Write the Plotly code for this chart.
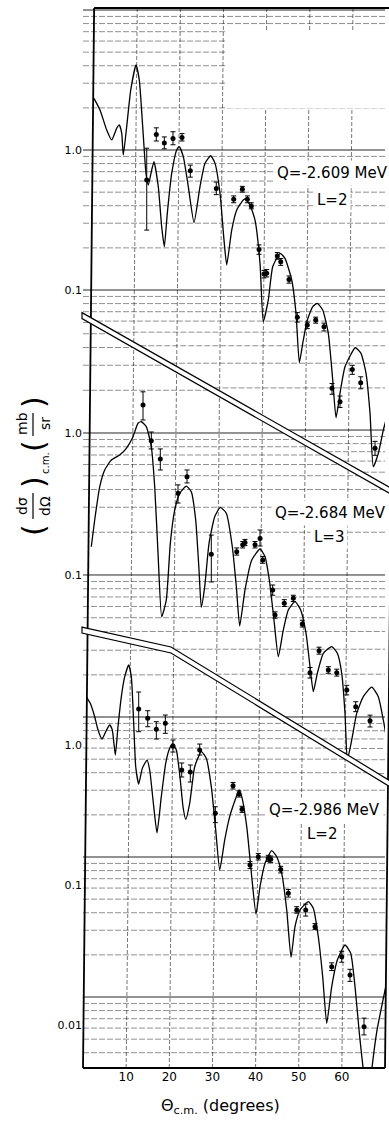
import math
import plotly.graph_objects as go

# ---------------- data (theta c.m. in degrees, dsigma/dOmega in mb/sr) ----------------
# Panel 1 : Q = -2.609 MeV, L = 2
c1_deg = [2.55, 3.94, 5.49, 6.65, 7.81, 8.41, 8.97, 9.34, 10.13, 11.06, 12.29, 13.05, 13.84, 14.60,
          15.14, 15.92, 16.46, 17.45, 18.24, 18.85, 19.54, 20.56, 21.72, 22.32, 23.25, 24.41, 25.73,
          27.12, 28.28, 29.60, 30.60, 31.76, 32.68, 33.31, 34.47, 35.63, 37.16, 37.71, 38.71, 39.87,
          41.03, 41.79, 42.95, 43.97, 45.67, 46.82, 48.38, 49.37, 50.14, 50.93, 51.99, 53.25, 54.31,
          55.56, 56.86, 57.88, 58.65, 59.57, 60.73, 63.12, 64.44, 65.60, 66.53, 67.29, 68.45, 69.61, 70.24]
c1_val = [2.34, 1.93, 1.39, 1.18, 1.43, 1.51, 1.32, 0.92, 1.47, 2.68, 4.05, 3.16, 1.47, 0.68,
          0.562, 0.72, 0.825, 0.547, 0.283, 0.204, 0.353, 0.68, 1.0, 1.056, 0.896, 0.547, 0.303,
          0.547, 0.803, 0.91, 0.803, 0.49, 0.228, 0.151, 0.268, 0.373, 0.44, 0.447, 0.405, 0.316,
          0.155, 0.0594, 0.0849, 0.1467, 0.183, 0.1684, 0.1179, 0.0682, 0.0303, 0.0416, 0.0611, 0.076, 0.0804,
          0.072, 0.0491, 0.0228, 0.01225, 0.0183, 0.0283, 0.0387, 0.0353, 0.0254, 0.01316, 0.00547, 0.00682, 0.010, 0.0118]
p1_deg = [14.77, 16.99, 18.85, 20.86, 22.95, 24.87, 30.90, 34.93, 36.93, 38.09, 39.01, 40.80, 41.96,
          42.58, 45.04, 45.83, 47.75, 49.68, 51.99, 53.94, 55.86, 57.72, 59.57, 62.42, 64.37, 67.69]
p1_val = [0.61, 1.29, 1.12, 1.21, 1.23, 0.71, 0.53, 0.445, 0.524, 0.445, 0.398, 0.195, 0.130,
          0.132, 0.175, 0.159, 0.119, 0.0638, 0.0562, 0.0611, 0.0547, 0.0199, 0.0159, 0.0271, 0.0218, 0.0074]
p1_hi = [1.03, 1.44, 1.24, 1.35, 1.31, 0.78, 0.59, 0.47, 0.55, 0.47, 0.42, 0.21, 0.138,
         0.14, 0.185, 0.168, 0.126, 0.069, 0.059, 0.064, 0.058, 0.0215, 0.0175, 0.029, 0.024, 0.0083]
p1_lo = [0.268, 1.16, 1.02, 1.09, 1.16, 0.64, 0.48, 0.42, 0.50, 0.42, 0.38, 0.18, 0.122,
         0.124, 0.166, 0.150, 0.112, 0.059, 0.053, 0.058, 0.051, 0.018, 0.0145, 0.025, 0.0197, 0.0066]

# Panel 2 : Q = -2.684 MeV, L = 3
c2_deg = [1.92, 2.71, 3.87, 5.03, 6.56, 8.51, 10.04, 11.59, 12.75, 13.51, 14.67, 15.83, 16.62, 17.39,
          18.24, 19.31, 20.24, 21.26, 22.42, 23.95, 25.10, 26.12, 26.89, 27.42, 28.21, 29.21, 30.53,
          31.83, 33.22, 34.61, 35.54, 36.32, 37.55, 39.11, 41.03, 42.19, 43.19, 44.27, 45.27, 46.43,
          47.59, 49.14, 50.46, 51.69, 52.62, 53.38, 54.31, 55.70, 57.65, 58.95, 59.97, 60.73, 61.27,
          62.29, 63.44, 64.97, 66.92, 68.45, 69.61, 70.40]
c2_val = [0.158, 0.244, 0.418, 0.549, 0.645, 0.700, 0.78, 0.942, 1.17, 1.20, 1.108, 0.80, 0.418, 0.142,
          0.0508, 0.0667, 0.167, 0.287, 0.376, 0.423, 0.386, 0.244, 0.1084, 0.0592, 0.0827, 0.167, 0.2574,
          0.2997, 0.272, 0.158, 0.0827, 0.0437, 0.0784, 0.1275, 0.1524, 0.1345, 0.0922, 0.0482, 0.0266, 0.041,
          0.0567, 0.0649, 0.0567, 0.0389, 0.0226, 0.01507, 0.0203, 0.0281, 0.03128, 0.0281, 0.0203, 0.0106, 0.00498,
          0.00689, 0.0106, 0.0139, 0.0162, 0.0139, 0.00952, 0.00689]
p2_deg = [13.91, 15.83, 17.92, 22.02, 24.11, 29.74, 35.63, 37.02, 37.55, 39.87, 41.03, 41.66,
          43.97, 44.51, 46.66, 48.75, 50.83, 52.62, 54.71, 56.86, 58.81, 61.13, 63.21, 66.53]
p2_val = [1.575, 0.883, 0.656, 0.376, 0.492, 0.140, 0.146, 0.163, 0.169, 0.163, 0.181, 0.1275,
          0.0784, 0.0523, 0.0632, 0.0685, 0.0452, 0.0205, 0.0293, 0.0214, 0.0205, 0.0155, 0.0118, 0.0094]
p2_hi = [1.95, 1.016, 0.772, 0.431, 0.549, 0.191, 0.155, 0.172, 0.178, 0.172, 0.2075, 0.135,
         0.085, 0.055, 0.067, 0.072, 0.048, 0.0223, 0.031, 0.0226, 0.0217, 0.0167, 0.0128, 0.0103]
p2_lo = [1.235, 0.772, 0.549, 0.321, 0.445, 0.0893, 0.138, 0.155, 0.161, 0.155, 0.160, 0.121,
         0.072, 0.0496, 0.060, 0.065, 0.043, 0.0188, 0.0277, 0.0203, 0.0194, 0.0143, 0.0109, 0.0085]

# Panel 3 : Q = -2.986 MeV, L = 2
c3_deg = [0.76, 1.69, 2.71, 3.48, 4.40, 5.26, 6.19, 6.79, 7.49, 8.11, 8.88, 9.67, 10.59, 11.20, 11.75,
          12.22, 12.91, 13.75, 14.84, 15.46, 16.23, 17.15, 18.15, 19.17, 19.94, 20.70, 21.63, 22.55,
          23.18, 23.81, 24.73, 25.89, 27.42, 28.58, 29.74, 30.76, 31.69, 32.85, 34.00, 35.40, 36.16,
          36.79, 37.95, 39.11, 40.10, 41.03, 42.19, 43.74, 44.90, 46.06, 47.22, 48.22, 49.14, 50.30,
          52.23, 53.38, 54.54, 55.56, 56.49, 57.65, 58.95, 60.73, 62.05, 63.05, 64.05, 64.97, 66.0,
          66.92, 68.15, 69.54, 70.24]
c3_val = [2.21, 1.986, 1.593, 1.28, 1.104, 1.245, 1.39, 1.28, 0.848, 1.35, 2.21, 3.075, 3.73, 3.075, 1.429,
          0.70, 0.526, 0.681, 0.781, 0.663, 0.405, 0.236, 0.4275, 0.74, 0.921, 1.017, 0.921, 0.562,
          0.3624, 0.2944, 0.3833, 0.70, 0.896, 0.803, 0.504, 0.247, 0.128, 0.2097, 0.3076, 0.416, 0.477,
          0.4275, 0.261, 0.1146, 0.0621, 0.0973, 0.1429, 0.1758, 0.1592, 0.1212, 0.0663, 0.03046, 0.0504, 0.0663,
          0.076, 0.0682, 0.0427, 0.0221, 0.01028, 0.0188, 0.0291, 0.0373, 0.0325, 0.0188, 0.00873, 0.00477, 0.0025,
          0.00477, 0.0092, 0.0151, 0.0193]
p3_deg = [12.91, 15.00, 16.99, 19.08, 20.86, 22.88, 24.87, 27.05, 30.67, 34.77, 36.16, 36.86, 38.71,
          40.63, 42.95, 43.51, 45.83, 47.59, 49.54, 51.62, 53.78, 57.65, 59.97, 61.89, 65.14]
p3_val = [1.807, 1.551, 1.295, 1.429, 0.984, 0.663, 0.641, 0.921, 0.325, 0.512, 0.447, 0.347, 0.139,
          0.159, 0.155, 0.153, 0.129, 0.0873, 0.0663, 0.0663, 0.0504, 0.0261, 0.0307, 0.0228, 0.0097]
p3_hi = [2.39, 1.758, 1.467, 1.637, 1.086, 0.744, 0.72, 1.016, 0.362, 0.54, 0.47, 0.365, 0.147,
         0.168, 0.163, 0.161, 0.136, 0.093, 0.070, 0.073, 0.053, 0.0278, 0.0336, 0.025, 0.0112]
p3_lo = [1.245, 1.351, 1.104, 1.212, 0.891, 0.591, 0.544, 0.848, 0.279, 0.485, 0.425, 0.33, 0.131,
         0.151, 0.147, 0.145, 0.122, 0.082, 0.063, 0.060, 0.048, 0.0245, 0.0281, 0.0205, 0.0085]

q_labels = ["Q=-2.609 MeV", "Q=-2.684 MeV", "Q=-2.986 MeV"]
l_labels = ["L=2", "L=3", "L=2"]
x_ticks = [10, 20, 30, 40, 50, 60]

# ---------------- geometry ----------------
W, H = 389, 1121
X0, X1, Y0, Y1 = 83, 385, 8, 1068           # plot area in pixels
ML, MR, MT, MB = X0, W - X1, Y0, H - Y1


def pxx(px):
    return (px - X0) / (X1 - X0)


def pxy(py):
    return (Y1 - py) / (Y1 - Y0)


# grid_shift: offset (in decades) of the printed graph-paper grid relative to the labelled scale
axes = [
    dict(name="y", domain=[0.5547, 1.0], range=[-2.357, 1.0143], tv=[1, 0.1], tt=["1.0", "0.1"], grid_shift=0.0),
    dict(name="y2", domain=[0.2528, 0.6868], range=[-2.585, 0.655], tv=[1, 0.1], tt=["1.0", "0.1"], grid_shift=0.0),
    dict(name="y3", domain=[0.0, 0.4415], range=[-2.307, 1.0357], tv=[1, 0.1, 0.01], tt=["1.0", "0.1", "0.01"],
         grid_shift=0.2),
]


def py_of(ax, v):
    d0, d1 = ax["domain"]
    r0, r1 = ax["range"]
    f = d0 + (d1 - d0) * (math.log10(v) - r0) / (r1 - r0)
    return Y1 - (Y1 - Y0) * f


TILT = 0.0105   # scan rotation (px of x per px of y)


def D1(px):
    return 313.2 + 0.568 * (px - 83)


def D2(px):
    return 627.3 + 0.2235 * (px - 83) if px <= 171 else 647.0 + 0.611 * (px - 171)


def D1inv(py):
    return 83 + (py - 313.2) / 0.568


def D2inv(py):
    return 83 + (py - 627.3) / 0.2235 if py <= 647 else 171 + (py - 647) / 0.611


GAP = 6

fig = go.Figure()

curves = [(c1_deg, c1_val), (c2_deg, c2_val), (c3_deg, c3_val)]
points = [(p1_deg, p1_val, p1_hi, p1_lo), (p2_deg, p2_val, p2_hi, p2_lo), (p3_deg, p3_val, p3_hi, p3_lo)]

for ax, (cd, cv), (pd_, pv, ph, pl) in zip(axes, curves, points):
    fig.add_trace(go.Scatter(x=cd, y=cv, mode="lines", yaxis=ax["name"], xaxis="x",
                             line=dict(color="black", width=1.3, shape="spline", smoothing=0.5),
                             showlegend=False, hoverinfo="skip"))
    fig.add_trace(go.Scatter(x=pd_, y=pv, mode="markers", yaxis=ax["name"], xaxis="x",
                             marker=dict(color="black", size=5),
                             error_y=dict(type="data", symmetric=False,
                                          array=[h - v for h, v in zip(ph, pv)],
                                          arrayminus=[v - l for v, l in zip(pv, pl)],
                                          color="black", thickness=1, width=2.5),
                             showlegend=False, hoverinfo="skip"))

shapes = []
grid_minor = dict(color="rgba(0,0,0,0.55)", width=0.8, dash="6px,2px")
grid_major = dict(color="rgba(0,0,0,0.85)", width=1.0)


def hseg(py, xa, xb, major):
    xa, xb = max(X0, xa), min(X1, xb)
    if xb - xa < 2:
        return
    shapes.append(dict(type="line", xref="paper", yref="paper", layer="below",
                       x0=pxx(xa), x1=pxx(xb), y0=pxy(py), y1=pxy(py),
                       line=grid_major if major else grid_minor))


for k, ax in enumerate(axes):
    r0, r1 = ax["range"]
    gs = ax["grid_shift"]
    for dec in range(math.floor(r0) - 1, math.ceil(r1) + 1):
        for m in range(1, 10):
            v = m * 10 ** (dec + gs)
            py = py_of(ax, v)
            if py < Y0 + 1 or py > Y1 - 1:
                continue
            major = (m == 1)
            if k == 0:
                if py < D1(X0):
                    hseg(py, X0, X1, major)
                elif py < D1(X1):
                    hseg(py, D1inv(py), X1, major)
            elif k == 1:
                xa = D1inv(py - GAP)
                xb = X0 if py < D2(X0) else D2inv(py)
                if py > D1(X0) + GAP or xa > X0:
                    hseg(py, xb, xa, major)
            else:
                if py > D2(X0) + GAP:
                    hseg(py, X0, D2inv(py - GAP), major)

# tilted vertical grid lines every 10 degrees
for d in x_ticks:
    xb = X0 + (X1 - X0) * d / 70.0
    shapes.append(dict(type="line", xref="paper", yref="paper", layer="below",
                       x0=pxx(xb), y0=pxy(Y1), x1=pxx(xb + TILT * (Y1 - Y0)), y1=pxy(Y0),
                       line=dict(color="rgba(0,0,0,0.6)", width=0.9, dash="4px,2px")))

# blank patch of the graph paper in the upper right of the top panel
shapes.append(dict(type="rect", xref="paper", yref="paper", layer="below",
                   x0=pxx(226), x1=pxx(W + 5), y0=pxy(108), y1=pxy(31),
                   fillcolor="white", line=dict(width=0)))

# frame (slightly rotated scan)
frame = dict(color="black", width=1.8)
shapes.append(dict(type="line", xref="paper", yref="paper", x0=pxx(X0), y0=pxy(Y1),
                   x1=pxx(X0 + TILT * (Y1 - Y0)), y1=pxy(Y0), line=frame))
shapes.append(dict(type="line", xref="paper", yref="paper", x0=pxx(X1), y0=pxy(Y1),
                   x1=pxx(X1 + TILT * (Y1 - Y0)), y1=pxy(Y0), line=frame))
shapes.append(dict(type="line", xref="paper", yref="paper", x0=pxx(X0), y0=pxy(Y1),
                   x1=pxx(X1), y1=pxy(Y1), line=frame))
shapes.append(dict(type="line", xref="paper", yref="paper", x0=pxx(X0 + TILT * (Y1 - Y0)), y0=pxy(Y0),
                   x1=pxx(W + 5), y1=pxy(Y0), line=frame))


def ppath(pts):
    return "M " + " L ".join(f"{pxx(a):.5f},{pxy(b):.5f}" for a, b in pts) + " Z"


# double diagonal separators
d1_up = [(X0 - 1, D1(X0 - 1)), (W + 3, D1(W + 3))]
shapes.append(dict(type="path", xref="paper", yref="paper",
                   path=ppath(d1_up + [(a, b + GAP) for a, b in reversed(d1_up)]),
                   fillcolor="white", line=dict(color="black", width=1.2)))
d2_up = [(X0 - 1, D2(X0 - 1)), (171, D2(171)), (W + 3, D2(W + 3))]
shapes.append(dict(type="path", xref="paper", yref="paper",
                   path=ppath(d2_up + [(a, b + GAP) for a, b in reversed(d2_up)]),
                   fillcolor="white", line=dict(color="black", width=1.2)))

# y-axis title pieces (rotated), drawn as a composite
shapes.append(dict(type="line", xref="paper", yref="paper", x0=pxx(33), x1=pxx(33),
                   y0=pxy(493), y1=pxy(519), line=dict(color="black", width=1.2)))
shapes.append(dict(type="line", xref="paper", yref="paper", x0=pxx(33), x1=pxx(33),
                   y0=pxy(413), y1=pxy(436), line=dict(color="black", width=1.2)))

annotations = []
FONT = "DejaVu Sans"


def ann(text, px, py, size, angle=0, xanchor="center", bg=None):
    d = dict(text=text, x=pxx(px), y=pxy(py), xref="paper", yref="paper", showarrow=False,
             textangle=angle, xanchor=xanchor, yanchor="middle",
             font=dict(family=FONT, size=size, color="black"))
    if bg:
        d.update(bgcolor=bg, borderpad=3)
    annotations.append(d)


ann("(", 33, 530, 30, -90)
ann("dσ", 22, 506, 14, -90)
ann("dΩ", 45, 506, 14, -90)
ann(")", 33, 482, 30, -90)
ann("c.m.", 46, 463, 10, -90)
ann("(", 33, 446, 30, -90)
ann("mb", 22, 424, 14, -90)
ann("sr", 45, 424, 14, -90)
ann(")", 33, 402, 30, -90)

ann(q_labels[0], 273, 173, 15, xanchor="left", bg="white")
ann(l_labels[0], 332, 200, 15, bg="white")
ann(q_labels[1], 271, 513, 15, xanchor="left", bg="white")
ann(l_labels[1], 329, 537, 15, bg="white")
ann(q_labels[2], 265, 810, 15, xanchor="left", bg="white")
ann(l_labels[2], 322, 834, 15, bg="white")

ann("Θ<sub>c.m.</sub> (degrees)", 220, 1106, 16)

layout = dict(
    width=W, height=H, margin=dict(l=ML, r=MR, t=MT, b=MB),
    paper_bgcolor="white", plot_bgcolor="rgba(0,0,0,0)",
    showlegend=False, shapes=shapes, annotations=annotations,
    xaxis=dict(domain=[0, 1], range=[0, 70], anchor="y3", tickvals=x_ticks,
               showgrid=False, zeroline=False, showline=False, ticks="",
               tickfont=dict(family=FONT, size=12, color="black")),
)
for ax in axes:
    key = "yaxis" if ax["name"] == "y" else "yaxis" + ax["name"][1:]
    layout[key] = dict(type="log", domain=ax["domain"], range=ax["range"], anchor="x",
                       tickvals=ax["tv"], ticktext=ax["tt"], showgrid=False, zeroline=False,
                       showline=False, ticks="",
                       tickfont=dict(family=FONT, size=11, color="black"))
fig.update_layout(**layout)
fig.write_html("out.html", config={"displayModeBar": False},
               post_script="document.body.style.margin='0';"
                           "document.documentElement.style.overflow='hidden';")
